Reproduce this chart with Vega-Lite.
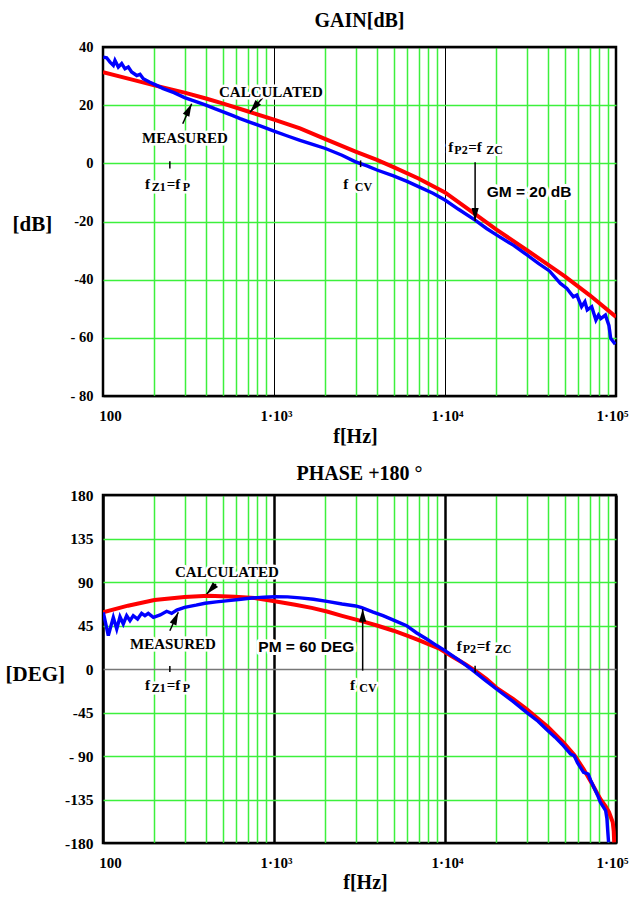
{
"$schema": "https://vega.github.io/schema/vega-lite/v6.json",
"padding": {"left": 3, "top": 9, "right": 0, "bottom": 0},
"spacing": 14,
"config": {"view": {"stroke": "black", "strokeWidth": 2.5}, "font": "Liberation Serif"},
"datasets": {
"gain": [
{"freq":100,"val":31.3,"curve":"CALCULATED"},{"freq":150,"val":28.7,"curve":"CALCULATED"},{"freq":200,"val":26.8,"curve":"CALCULATED"},{"freq":300,"val":24.3,"curve":"CALCULATED"},{"freq":400,"val":22.3,"curve":"CALCULATED"},{"freq":500,"val":20.6,"curve":"CALCULATED"},{"freq":700,"val":17.9,"curve":"CALCULATED"},{"freq":1000,"val":15.0,"curve":"CALCULATED"},{"freq":1420,"val":12.0,"curve":"CALCULATED"},{"freq":2000,"val":8.3,"curve":"CALCULATED"},{"freq":3000,"val":4.0,"curve":"CALCULATED"},{"freq":4000,"val":1.2,"curve":"CALCULATED"},{"freq":5000,"val":-1.3,"curve":"CALCULATED"},{"freq":7000,"val":-5.2,"curve":"CALCULATED"},{"freq":10000,"val":-10.0,"curve":"CALCULATED"},{"freq":15000,"val":-17.5,"curve":"CALCULATED"},{"freq":20000,"val":-22.8,"curve":"CALCULATED"},{"freq":30000,"val":-29.8,"curve":"CALCULATED"},{"freq":40000,"val":-34.8,"curve":"CALCULATED"},{"freq":50000,"val":-38.8,"curve":"CALCULATED"},{"freq":70000,"val":-45.3,"curve":"CALCULATED"},{"freq":100000,"val":-52.8,"curve":"CALCULATED"},
{"freq":100.4,"val":36.5,"curve":"MEASURED"},{"freq":105,"val":36.3,"curve":"MEASURED"},{"freq":109.9,"val":34.8,"curve":"MEASURED"},{"freq":114.9,"val":33.7,"curve":"MEASURED"},{"freq":117.5,"val":35.4,"curve":"MEASURED"},{"freq":122.9,"val":33.1,"curve":"MEASURED"},{"freq":128.6,"val":34.3,"curve":"MEASURED"},{"freq":134.5,"val":32.5,"curve":"MEASURED"},{"freq":140.6,"val":33.1,"curve":"MEASURED"},{"freq":147,"val":31.4,"curve":"MEASURED"},{"freq":157.5,"val":30.2,"curve":"MEASURED"},{"freq":164.6,"val":30.6,"curve":"MEASURED"},{"freq":172,"val":29.1,"curve":"MEASURED"},{"freq":188,"val":27.9,"curve":"MEASURED"},{"freq":206,"val":26.8,"curve":"MEASURED"},{"freq":225,"val":25.7,"curve":"MEASURED"},{"freq":260,"val":24.3,"curve":"MEASURED"},{"freq":300,"val":22.6,"curve":"MEASURED"},{"freq":350,"val":21.2,"curve":"MEASURED"},{"freq":400,"val":20.0,"curve":"MEASURED"},{"freq":450,"val":18.8,"curve":"MEASURED"},{"freq":500,"val":17.8,"curve":"MEASURED"},{"freq":570,"val":16.5,"curve":"MEASURED"},{"freq":634,"val":15.4,"curve":"MEASURED"},{"freq":720,"val":14.2,"curve":"MEASURED"},{"freq":800,"val":13.2,"curve":"MEASURED"},{"freq":900,"val":12.1,"curve":"MEASURED"},{"freq":1000,"val":11.1,"curve":"MEASURED"},{"freq":1200,"val":9.4,"curve":"MEASURED"},{"freq":1420,"val":7.9,"curve":"MEASURED"},{"freq":1700,"val":6.4,"curve":"MEASURED"},{"freq":2000,"val":5.1,"curve":"MEASURED"},{"freq":2500,"val":2.8,"curve":"MEASURED"},{"freq":3000,"val":0.5,"curve":"MEASURED"},{"freq":3500,"val":-0.9,"curve":"MEASURED"},{"freq":4000,"val":-2.3,"curve":"MEASURED"},{"freq":5000,"val":-4.3,"curve":"MEASURED"},{"freq":6000,"val":-6.2,"curve":"MEASURED"},{"freq":7000,"val":-8.0,"curve":"MEASURED"},{"freq":8500,"val":-10.3,"curve":"MEASURED"},{"freq":10000,"val":-12.6,"curve":"MEASURED"},{"freq":12000,"val":-15.8,"curve":"MEASURED"},{"freq":15000,"val":-19.5,"curve":"MEASURED"},{"freq":17500,"val":-22.4,"curve":"MEASURED"},{"freq":20100,"val":-24.7,"curve":"MEASURED"},{"freq":25200,"val":-28.2,"curve":"MEASURED"},{"freq":30300,"val":-31.6,"curve":"MEASURED"},{"freq":35000,"val":-34.3,"curve":"MEASURED"},{"freq":40800,"val":-37.0,"curve":"MEASURED"},{"freq":47300,"val":-41.3,"curve":"MEASURED"},{"freq":51600,"val":-43.0,"curve":"MEASURED"},{"freq":56300,"val":-45.9,"curve":"MEASURED"},{"freq":59000,"val":-45.3,"curve":"MEASURED"},{"freq":62900,"val":-49.3,"curve":"MEASURED"},{"freq":65800,"val":-47.6,"curve":"MEASURED"},{"freq":67900,"val":-50.4,"curve":"MEASURED"},{"freq":72100,"val":-49.3,"curve":"MEASURED"},{"freq":76300,"val":-53.9,"curve":"MEASURED"},{"freq":79000,"val":-52.2,"curve":"MEASURED"},{"freq":81500,"val":-53.4,"curve":"MEASURED"},{"freq":86700,"val":-52.2,"curve":"MEASURED"},{"freq":90900,"val":-55.7,"curve":"MEASURED"},{"freq":93100,"val":-60.2,"curve":"MEASURED"},{"freq":99000,"val":-62.2,"curve":"MEASURED"}
],
"phase": [
{"freq":100,"val":58.6,"curve":"CALCULATED"},{"freq":140,"val":65.5,"curve":"CALCULATED"},{"freq":200,"val":71.3,"curve":"CALCULATED"},{"freq":300,"val":74.6,"curve":"CALCULATED"},{"freq":413,"val":75.8,"curve":"CALCULATED"},{"freq":590,"val":74.8,"curve":"CALCULATED"},{"freq":770,"val":73.4,"curve":"CALCULATED"},{"freq":1010,"val":70.0,"curve":"CALCULATED"},{"freq":1330,"val":66.5,"curve":"CALCULATED"},{"freq":1660,"val":63.2,"curve":"CALCULATED"},{"freq":2040,"val":59.5,"curve":"CALCULATED"},{"freq":2500,"val":55.0,"curve":"CALCULATED"},{"freq":3300,"val":49.3,"curve":"CALCULATED"},{"freq":4000,"val":45.0,"curve":"CALCULATED"},{"freq":5000,"val":39.6,"curve":"CALCULATED"},{"freq":6000,"val":34.5,"curve":"CALCULATED"},{"freq":7140,"val":29.3,"curve":"CALCULATED"},{"freq":8200,"val":24.8,"curve":"CALCULATED"},{"freq":9360,"val":20.7,"curve":"CALCULATED"},{"freq":11200,"val":12.1,"curve":"CALCULATED"},{"freq":13000,"val":5.5,"curve":"CALCULATED"},{"freq":15000,"val":-1.7,"curve":"CALCULATED"},{"freq":17500,"val":-10.5,"curve":"CALCULATED"},{"freq":20000,"val":-19.5,"curve":"CALCULATED"},{"freq":25000,"val":-31,"curve":"CALCULATED"},{"freq":30000,"val":-41.5,"curve":"CALCULATED"},{"freq":40000,"val":-60,"curve":"CALCULATED"},{"freq":49200,"val":-75.8,"curve":"CALCULATED"},{"freq":57000,"val":-89,"curve":"CALCULATED"},{"freq":64600,"val":-103.4,"curve":"CALCULATED"},{"freq":72000,"val":-118,"curve":"CALCULATED"},{"freq":81000,"val":-134.5,"curve":"CALCULATED"},{"freq":87000,"val":-142,"curve":"CALCULATED"},{"freq":91000,"val":-148,"curve":"CALCULATED"},{"freq":95700,"val":-158.6,"curve":"CALCULATED"},{"freq":97000,"val":-168,"curve":"CALCULATED"},{"freq":97600,"val":-179.3,"curve":"CALCULATED"},
{"freq":100.4,"val":58.6,"curve":"MEASURED"},{"freq":107.4,"val":34.5,"curve":"MEASURED"},{"freq":114.9,"val":53.4,"curve":"MEASURED"},{"freq":120.3,"val":41.4,"curve":"MEASURED"},{"freq":125.7,"val":54.1,"curve":"MEASURED"},{"freq":131.4,"val":46.6,"curve":"MEASURED"},{"freq":137.5,"val":55.2,"curve":"MEASURED"},{"freq":143.8,"val":50,"curve":"MEASURED"},{"freq":150.3,"val":55.2,"curve":"MEASURED"},{"freq":159.3,"val":51.7,"curve":"MEASURED"},{"freq":168.2,"val":57.6,"curve":"MEASURED"},{"freq":175.9,"val":55.2,"curve":"MEASURED"},{"freq":183.9,"val":57.6,"curve":"MEASURED"},{"freq":197.1,"val":53.5,"curve":"MEASURED"},{"freq":215.9,"val":55.9,"curve":"MEASURED"},{"freq":235.7,"val":59.7,"curve":"MEASURED"},{"freq":252,"val":57.6,"curve":"MEASURED"},{"freq":270,"val":61,"curve":"MEASURED"},{"freq":300,"val":63.8,"curve":"MEASURED"},{"freq":350,"val":66,"curve":"MEASURED"},{"freq":395,"val":68,"curve":"MEASURED"},{"freq":460,"val":69.5,"curve":"MEASURED"},{"freq":541,"val":70.7,"curve":"MEASURED"},{"freq":640,"val":72.2,"curve":"MEASURED"},{"freq":740,"val":73.4,"curve":"MEASURED"},{"freq":870,"val":74.3,"curve":"MEASURED"},{"freq":1010,"val":74.8,"curve":"MEASURED"},{"freq":1200,"val":74.6,"curve":"MEASURED"},{"freq":1420,"val":73.6,"curve":"MEASURED"},{"freq":1700,"val":72.2,"curve":"MEASURED"},{"freq":2040,"val":70,"curve":"MEASURED"},{"freq":2500,"val":67.2,"curve":"MEASURED"},{"freq":3000,"val":65.2,"curve":"MEASURED"},{"freq":3260,"val":63.5,"curve":"MEASURED"},{"freq":3800,"val":58.9,"curve":"MEASURED"},{"freq":4340,"val":55.2,"curve":"MEASURED"},{"freq":5000,"val":50.5,"curve":"MEASURED"},{"freq":5960,"val":44.8,"curve":"MEASURED"},{"freq":6800,"val":37.5,"curve":"MEASURED"},{"freq":7810,"val":31,"curve":"MEASURED"},{"freq":8900,"val":24.5,"curve":"MEASURED"},{"freq":10000,"val":19,"curve":"MEASURED"},{"freq":12200,"val":8.6,"curve":"MEASURED"},{"freq":14600,"val":-1.7,"curve":"MEASURED"},{"freq":17000,"val":-11,"curve":"MEASURED"},{"freq":20000,"val":-20.7,"curve":"MEASURED"},{"freq":25000,"val":-33.5,"curve":"MEASURED"},{"freq":30000,"val":-44.8,"curve":"MEASURED"},{"freq":35000,"val":-54,"curve":"MEASURED"},{"freq":39000,"val":-62,"curve":"MEASURED"},{"freq":44000,"val":-70.5,"curve":"MEASURED"},{"freq":49200,"val":-79.3,"curve":"MEASURED"},{"freq":54300,"val":-88,"curve":"MEASURED"},{"freq":57000,"val":-89.7,"curve":"MEASURED"},{"freq":59500,"val":-97,"curve":"MEASURED"},{"freq":61500,"val":-101,"curve":"MEASURED"},{"freq":64600,"val":-106.9,"curve":"MEASURED"},{"freq":68800,"val":-108.6,"curve":"MEASURED"},{"freq":71000,"val":-115,"curve":"MEASURED"},{"freq":74200,"val":-122.4,"curve":"MEASURED"},{"freq":78000,"val":-130.5,"curve":"MEASURED"},{"freq":81000,"val":-137.9,"curve":"MEASURED"},{"freq":87000,"val":-146.6,"curve":"MEASURED"},{"freq":88500,"val":-155,"curve":"MEASURED"},{"freq":89500,"val":-168,"curve":"MEASURED"},{"freq":90500,"val":-179.3,"curve":"MEASURED"}
],
"gainText": [
{"freq":476.7,"val":22.8,"t":"CALCULATED","k":"main"},
{"freq":169.1,"val":7.1,"t":"MEASURED","k":"main"},
{"freq":176,"val":-8.7,"t":"f","k":"main"},{"freq":192.8,"val":-8.7,"t":"Z1","k":"sub"},{"freq":236,"val":-8.7,"t":"=f","k":"main"},{"freq":292.7,"val":-8.7,"t":"P","k":"sub"},
{"freq":2544,"val":-8.7,"t":"f","k":"main"},{"freq":2967,"val":-8.7,"t":"CV","k":"sub"},
{"freq":10450,"val":3.9,"t":"f","k":"main"},{"freq":11340,"val":3.9,"t":"P2","k":"sub"},{"freq":13690,"val":3.9,"t":"=f","k":"main"},{"freq":17430,"val":3.9,"t":"ZC","k":"sub"},
{"freq":17530,"val":-11.6,"t":"GM = 20 dB","k":"sans"}
],
"phaseText": [
{"freq":263.7,"val":94.9,"t":"CALCULATED","k":"main"},
{"freq":143.8,"val":20.7,"t":"MEASURED","k":"main"},
{"freq":809.6,"val":17.2,"t":"PM = 60 DEG","k":"sans"},
{"freq":176,"val":-21.4,"t":"f","k":"main"},{"freq":192.8,"val":-21.4,"t":"Z1","k":"sub"},{"freq":236,"val":-21.4,"t":"=f","k":"main"},{"freq":292.7,"val":-21.4,"t":"P","k":"sub"},
{"freq":2783,"val":-21.4,"t":"f","k":"main"},{"freq":3153,"val":-21.4,"t":"CV","k":"sub"},
{"freq":11710,"val":19.0,"t":"f","k":"main"},{"freq":12690,"val":19.0,"t":"P2","k":"sub"},{"freq":15320,"val":19.0,"t":"=f","k":"main"},{"freq":19530,"val":19.0,"t":"ZC","k":"sub"}
],
"gainArrow": [
{"freq":292.6,"val":13.6,"freq2":330,"val2":20.5,"k":"ur"},
{"freq":886,"val":23.4,"freq2":724,"val2":17.6,"k":"dl"},
{"freq":15000,"val":0.4,"freq2":15000,"val2":-19.8,"k":"dn"},
{"freq":246,"val":0.7,"freq2":246,"val2":-1.8,"k":"tick"},
{"freq":3210,"val":1.0,"freq2":3210,"val2":-1.3,"k":"tick"}
],
"phaseArrow": [
{"freq":458,"val":87.9,"freq2":404,"val2":77.6,"k":"dl"},
{"freq":246,"val":39.6,"freq2":275.6,"val2":58.7,"k":"ur"},
{"freq":3300,"val":-1.7,"freq2":3300,"val2":62,"k":"up"},
{"freq":246,"val":3,"freq2":246,"val2":-3,"k":"tick"},
{"freq":15000,"val":3.4,"freq2":15000,"val2":-4,"k":"tick"}
]
},
"vconcat": [
{
"width": 513, "height": 349,
"title": {"text": "GAIN[dB]", "fontSize": 20, "font": "Liberation Serif", "fontWeight": "bold", "offset": 8},
"layer": [
{"data": {"name": "gain"}, "transform": [{"filter": "datum.curve == 'CALCULATED'"}],
 "mark": {"type": "line", "color": "#ff0000", "strokeWidth": 4, "clip": true},
 "encoding": {
  "x": {"field": "freq", "type": "quantitative", "scale": {"type": "log", "domain": [100, 100000], "nice": false},
   "axis": {"values": [100,200,300,400,500,600,700,800,900,1000,2000,3000,4000,5000,6000,7000,8000,9000,10000,20000,30000,40000,50000,60000,70000,80000,90000,100000],
    "labelExpr": "datum.value == 100 ? '100' : datum.value == 1000 ? '1·10³' : datum.value == 10000 ? '1·10⁴' : datum.value == 100000 ? '1·10⁵' : ''",
    "grid": true,
    "gridColor": {"condition": {"test": "indexof([100,1000,10000,100000], datum.value) >= 0", "value": "#000000"}, "value": "#3cf03c"},
    "gridWidth": {"condition": {"test": "indexof([100,1000,10000,100000], datum.value) >= 0", "value": 1}, "value": 1.5},
    "ticks": false, "tickSize": 0, "domain": false, "labelOverlap": false, "labelFlush": false,
    "labelOffset": {"condition": [{"test": "datum.value == 100", "value": 7}, {"test": "datum.value == 100000", "value": -4}], "value": 2},
    "labelFont": "Liberation Serif", "labelFontWeight": "bold", "labelFontSize": 15, "labelPadding": 12, "labelColor": "black",
    "title": "f[Hz]", "titleFont": "Liberation Serif", "titleFontSize": 20, "titleFontWeight": "bold", "titleColor": "black",
    "titleBaseline": "alphabetic", "titleY": 46, "titleX": 252,
    "minExtent": 50, "maxExtent": 50}},
  "y": {"field": "val", "type": "quantitative", "scale": {"domain": [-80, 40], "nice": false, "zero": false},
   "axis": {"values": [-80,-60,-40,-20,0,20,40],
    "labelExpr": "datum.value == -60 || datum.value == -80 ? '- ' + abs(datum.value) : datum.value < 0 ? '-' + abs(datum.value) : '' + datum.value",
    "grid": true,
    "gridColor": {"condition": {"test": "datum.value == 40 || datum.value == -80", "value": "#000000"}, "value": "#3cf03c"},
    "gridWidth": 1.5,
    "ticks": false, "tickSize": 0, "domain": false, "labelFlush": false,
    "labelFont": "Liberation Serif", "labelFontWeight": "bold", "labelFontSize": 14.5, "labelPadding": 10, "labelColor": "black",
    "title": "[dB]", "titleFont": "Liberation Serif", "titleFontSize": 21, "titleFontWeight": "bold", "titleColor": "black",
    "titleAngle": 0, "titleAlign": "left", "titleBaseline": "alphabetic", "titleX": -91, "titleY": 183.5,
    "minExtent": 98, "maxExtent": 98}}
 }},
{"data": {"name": "gain"}, "transform": [{"filter": "datum.curve == 'MEASURED'"}],
 "mark": {"type": "line", "color": "#0000ff", "strokeWidth": 3.4, "clip": true},
 "encoding": {"x": {"field": "freq", "type": "quantitative"}, "y": {"field": "val", "type": "quantitative"}}},
{"data": {"name": "gainArrow"},
 "mark": {"type": "rule", "color": "black", "strokeWidth": 1.5},
 "encoding": {"x": {"field": "freq", "type": "quantitative"}, "y": {"field": "val", "type": "quantitative"}, "x2": {"field": "freq2"}, "y2": {"field": "val2"}}},
{"data": {"name": "gainArrow"}, "transform": [{"filter": "datum.k == 'ur'"}],
 "mark": {"type": "point", "shape": "M0,0L0.9,3.2L-0.9,3.2Z", "filled": true, "color": "black", "opacity": 1, "size": 64, "angle": 26},
 "encoding": {"x": {"field": "freq2", "type": "quantitative"}, "y": {"field": "val2", "type": "quantitative"}}},
{"data": {"name": "gainArrow"}, "transform": [{"filter": "datum.k == 'dl'"}],
 "mark": {"type": "point", "shape": "M0,0L0.9,3.2L-0.9,3.2Z", "filled": true, "color": "black", "opacity": 1, "size": 64, "angle": 220},
 "encoding": {"x": {"field": "freq2", "type": "quantitative"}, "y": {"field": "val2", "type": "quantitative"}}},
{"data": {"name": "gainArrow"}, "transform": [{"filter": "datum.k == 'dn'"}],
 "mark": {"type": "point", "shape": "M0,0L0.9,3.2L-0.9,3.2Z", "filled": true, "color": "black", "opacity": 1, "size": 64, "angle": 180},
 "encoding": {"x": {"field": "freq2", "type": "quantitative"}, "y": {"field": "val2", "type": "quantitative"}}},
{"data": {"name": "gainText"}, "transform": [{"filter": "datum.k == 'main'"}],
 "mark": {"type": "text", "font": "Liberation Serif", "fontWeight": "bold", "fontSize": 15, "align": "left", "baseline": "alphabetic", "fill": "white", "stroke": "white", "strokeWidth": 5, "strokeJoin": "round"},
 "encoding": {"x": {"field": "freq", "type": "quantitative"}, "y": {"field": "val", "type": "quantitative"}, "text": {"field": "t"}}},
{"data": {"name": "gainText"}, "transform": [{"filter": "datum.k == 'sub'"}],
 "mark": {"type": "text", "font": "Liberation Serif", "fontWeight": "bold", "fontSize": 12, "dy": 2, "align": "left", "baseline": "alphabetic", "fill": "white", "stroke": "white", "strokeWidth": 5, "strokeJoin": "round"},
 "encoding": {"x": {"field": "freq", "type": "quantitative"}, "y": {"field": "val", "type": "quantitative"}, "text": {"field": "t"}}},
{"data": {"name": "gainText"}, "transform": [{"filter": "datum.k == 'sans'"}],
 "mark": {"type": "text", "font": "Liberation Sans", "fontWeight": "bold", "fontSize": 15.5, "align": "left", "baseline": "alphabetic", "fill": "white", "stroke": "white", "strokeWidth": 6, "strokeJoin": "round"},
 "encoding": {"x": {"field": "freq", "type": "quantitative"}, "y": {"field": "val", "type": "quantitative"}, "text": {"field": "t"}}},
{"data": {"name": "gainText"}, "transform": [{"filter": "datum.k == 'main'"}],
 "mark": {"type": "text", "font": "Liberation Serif", "fontWeight": "bold", "fontSize": 15, "align": "left", "baseline": "alphabetic", "color": "black"},
 "encoding": {"x": {"field": "freq", "type": "quantitative"}, "y": {"field": "val", "type": "quantitative"}, "text": {"field": "t"}}},
{"data": {"name": "gainText"}, "transform": [{"filter": "datum.k == 'sub'"}],
 "mark": {"type": "text", "font": "Liberation Serif", "fontWeight": "bold", "fontSize": 12, "dy": 2, "align": "left", "baseline": "alphabetic", "color": "black"},
 "encoding": {"x": {"field": "freq", "type": "quantitative"}, "y": {"field": "val", "type": "quantitative"}, "text": {"field": "t"}}},
{"data": {"name": "gainText"}, "transform": [{"filter": "datum.k == 'sans'"}],
 "mark": {"type": "text", "font": "Liberation Sans", "fontWeight": "bold", "fontSize": 15.5, "align": "left", "baseline": "alphabetic", "color": "black"},
 "encoding": {"x": {"field": "freq", "type": "quantitative"}, "y": {"field": "val", "type": "quantitative"}, "text": {"field": "t"}}}
]
},
{
"width": 513, "height": 348,
"title": {"text": "PHASE +180 °", "fontSize": 20, "font": "Liberation Serif", "fontWeight": "bold", "offset": 4},
"layer": [
{"data": {"name": "phase"}, "transform": [{"filter": "datum.curve == 'CALCULATED'"}],
 "mark": {"type": "line", "color": "#ff0000", "strokeWidth": 4, "clip": true},
 "encoding": {
  "x": {"field": "freq", "type": "quantitative", "scale": {"type": "log", "domain": [100, 100000], "nice": false},
   "axis": {"values": [100,200,300,400,500,600,700,800,900,1000,2000,3000,4000,5000,6000,7000,8000,9000,10000,20000,30000,40000,50000,60000,70000,80000,90000,100000],
    "labelExpr": "datum.value == 100 ? '100' : datum.value == 1000 ? '1·10³' : datum.value == 10000 ? '1·10⁴' : datum.value == 100000 ? '1·10⁵' : ''",
    "grid": true,
    "gridColor": {"condition": {"test": "indexof([100,1000,10000,100000], datum.value) >= 0", "value": "#000000"}, "value": "#3cf03c"},
    "gridWidth": {"condition": {"test": "indexof([100,1000,10000,100000], datum.value) >= 0", "value": 2.5}, "value": 1.5},
    "ticks": false, "tickSize": 0, "domain": false, "labelOverlap": false, "labelFlush": false,
    "labelOffset": {"condition": [{"test": "datum.value == 100", "value": 7}, {"test": "datum.value == 100000", "value": -4}], "value": 2},
    "labelFont": "Liberation Serif", "labelFontWeight": "bold", "labelFontSize": 15, "labelPadding": 12, "labelColor": "black",
    "title": "f[Hz]", "titleFont": "Liberation Serif", "titleFontSize": 20, "titleFontWeight": "bold", "titleColor": "black",
    "titleBaseline": "alphabetic", "titleY": 45, "titleX": 262,
    "minExtent": 50, "maxExtent": 50}},
  "y": {"field": "val", "type": "quantitative", "scale": {"domain": [-180, 180], "nice": false, "zero": false},
   "axis": {"values": [-180,-135,-90,-45,0,45,90,135,180],
    "labelExpr": "datum.value == -90 ? '- 90' : datum.value < 0 ? '-' + abs(datum.value) : '' + datum.value",
    "grid": true,
    "gridColor": {"condition": [{"test": "datum.value == 180 || datum.value == -180", "value": "#000000"}, {"test": "datum.value == 0", "value": "#777777"}], "value": "#3cf03c"},
    "gridWidth": 1.5,
    "ticks": false, "tickSize": 0, "domain": false, "labelFlush": false,
    "labelFont": "Liberation Serif", "labelFontWeight": "bold", "labelFontSize": 15.5, "labelPadding": 10, "labelColor": "black",
    "title": "[DEG]", "titleFont": "Liberation Serif", "titleFontSize": 21, "titleFontWeight": "bold", "titleColor": "black",
    "titleAngle": 0, "titleAlign": "left", "titleBaseline": "alphabetic", "titleX": -98, "titleY": 185.7,
    "minExtent": 98, "maxExtent": 98}}
 }},
{"data": {"name": "phase"}, "transform": [{"filter": "datum.curve == 'MEASURED'"}],
 "mark": {"type": "line", "color": "#0000ff", "strokeWidth": 3.4, "clip": true},
 "encoding": {"x": {"field": "freq", "type": "quantitative"}, "y": {"field": "val", "type": "quantitative"}}},
{"data": {"name": "phaseArrow"},
 "mark": {"type": "rule", "color": "black", "strokeWidth": 1.5},
 "encoding": {"x": {"field": "freq", "type": "quantitative"}, "y": {"field": "val", "type": "quantitative"}, "x2": {"field": "freq2"}, "y2": {"field": "val2"}}},
{"data": {"name": "phaseArrow"}, "transform": [{"filter": "datum.k == 'ur'"}],
 "mark": {"type": "point", "shape": "M0,0L0.9,3.2L-0.9,3.2Z", "filled": true, "color": "black", "opacity": 1, "size": 64, "angle": 24},
 "encoding": {"x": {"field": "freq2", "type": "quantitative"}, "y": {"field": "val2", "type": "quantitative"}}},
{"data": {"name": "phaseArrow"}, "transform": [{"filter": "datum.k == 'dl'"}],
 "mark": {"type": "point", "shape": "M0,0L0.9,3.2L-0.9,3.2Z", "filled": true, "color": "black", "opacity": 1, "size": 64, "angle": 223},
 "encoding": {"x": {"field": "freq2", "type": "quantitative"}, "y": {"field": "val2", "type": "quantitative"}}},
{"data": {"name": "phaseArrow"}, "transform": [{"filter": "datum.k == 'up'"}],
 "mark": {"type": "point", "shape": "M0,0L0.9,3.2L-0.9,3.2Z", "filled": true, "color": "black", "opacity": 1, "size": 64, "angle": 0},
 "encoding": {"x": {"field": "freq2", "type": "quantitative"}, "y": {"field": "val2", "type": "quantitative"}}},
{"data": {"name": "phaseText"}, "transform": [{"filter": "datum.k == 'main'"}],
 "mark": {"type": "text", "font": "Liberation Serif", "fontWeight": "bold", "fontSize": 15, "align": "left", "baseline": "alphabetic", "fill": "white", "stroke": "white", "strokeWidth": 5, "strokeJoin": "round"},
 "encoding": {"x": {"field": "freq", "type": "quantitative"}, "y": {"field": "val", "type": "quantitative"}, "text": {"field": "t"}}},
{"data": {"name": "phaseText"}, "transform": [{"filter": "datum.k == 'sub'"}],
 "mark": {"type": "text", "font": "Liberation Serif", "fontWeight": "bold", "fontSize": 12, "dy": 2, "align": "left", "baseline": "alphabetic", "fill": "white", "stroke": "white", "strokeWidth": 5, "strokeJoin": "round"},
 "encoding": {"x": {"field": "freq", "type": "quantitative"}, "y": {"field": "val", "type": "quantitative"}, "text": {"field": "t"}}},
{"data": {"name": "phaseText"}, "transform": [{"filter": "datum.k == 'sans'"}],
 "mark": {"type": "text", "font": "Liberation Sans", "fontWeight": "bold", "fontSize": 15.5, "align": "left", "baseline": "alphabetic", "fill": "white", "stroke": "white", "strokeWidth": 6, "strokeJoin": "round"},
 "encoding": {"x": {"field": "freq", "type": "quantitative"}, "y": {"field": "val", "type": "quantitative"}, "text": {"field": "t"}}},
{"data": {"name": "phaseText"}, "transform": [{"filter": "datum.k == 'main'"}],
 "mark": {"type": "text", "font": "Liberation Serif", "fontWeight": "bold", "fontSize": 15, "align": "left", "baseline": "alphabetic", "color": "black"},
 "encoding": {"x": {"field": "freq", "type": "quantitative"}, "y": {"field": "val", "type": "quantitative"}, "text": {"field": "t"}}},
{"data": {"name": "phaseText"}, "transform": [{"filter": "datum.k == 'sub'"}],
 "mark": {"type": "text", "font": "Liberation Serif", "fontWeight": "bold", "fontSize": 12, "dy": 2, "align": "left", "baseline": "alphabetic", "color": "black"},
 "encoding": {"x": {"field": "freq", "type": "quantitative"}, "y": {"field": "val", "type": "quantitative"}, "text": {"field": "t"}}},
{"data": {"name": "phaseText"}, "transform": [{"filter": "datum.k == 'sans'"}],
 "mark": {"type": "text", "font": "Liberation Sans", "fontWeight": "bold", "fontSize": 15.5, "align": "left", "baseline": "alphabetic", "color": "black"},
 "encoding": {"x": {"field": "freq", "type": "quantitative"}, "y": {"field": "val", "type": "quantitative"}, "text": {"field": "t"}}}
]
}
]
}
